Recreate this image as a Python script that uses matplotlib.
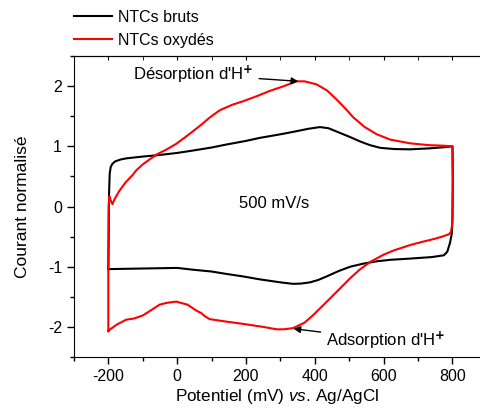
import matplotlib
matplotlib.use('Agg')
import matplotlib.pyplot as plt
from matplotlib.ticker import MultipleLocator

plt.rcParams['font.family'] = ['Liberation Sans', 'DejaVu Sans']
plt.rcParams['mathtext.fontset'] = 'custom'
plt.rcParams['mathtext.rm'] = 'Liberation Sans'
plt.rcParams['mathtext.it'] = 'Liberation Sans:italic'
plt.rcParams['mathtext.bf'] = 'DejaVu Sans:bold'
plt.rcParams['axes.unicode_minus'] = False

# NTCs bruts (loop: anodic branch then cathodic branch)
brutsX = [-200, -199, -198, -196, -193, -188, -180, -165, -148, -100, -61, 0, 46, 100, 143, 200,
          240, 300, 337, 380, 415, 440, 470, 500, 532, 560, 590, 630, 677, 730, 775, 800,
          801, 800, 798, 793, 785, 775, 740, 677, 620, 580, 540, 503, 470, 435, 410, 386,
          360, 337, 300, 240, 190, 143, 100, 46, 0, -50, -100, -150, -200]
brutsY = [-1.04, -0.5, 0.2, 0.55, 0.66, 0.71, 0.75, 0.78, 0.80, 0.83, 0.85, 0.89, 0.93, 0.98, 1.03, 1.09,
          1.14, 1.20, 1.24, 1.29, 1.32, 1.30, 1.23, 1.16, 1.08, 1.02, 0.975, 0.955, 0.95, 0.965, 0.985, 1.0,
          0.5, -0.2, -0.45, -0.6, -0.75, -0.81, -0.84, -0.865, -0.885, -0.91, -0.95, -1.0, -1.07, -1.16, -1.22, -1.26,
          -1.28, -1.285, -1.26, -1.21, -1.16, -1.12, -1.08, -1.05, -1.02, -1.025, -1.03, -1.035, -1.04]

# NTCs oxydés
oxX = [-200, -200, -199, -197, -193, -188, -182, -168, -150, -130, -119, -100, -61, -30, -3, 30,
       66, 95, 124, 160, 192, 230, 269, 310, 347, 370, 405, 435, 463, 490, 512, 545,
       580, 620, 677, 730, 775, 800, 801, 800, 799, 796, 790, 770, 746, 710, 677, 629,
       600, 561, 530, 503, 470, 435, 396, 370, 337, 310, 289, 250, 192, 140, 94, 80,
       70, 56, 30, -3, -30, -51, -75, -100, -125, -148, -175, -197, -200]
oxY = [-2.07, -1.0, 0.0, 0.17, 0.10, 0.04, 0.12, 0.26, 0.40, 0.52, 0.60, 0.70, 0.86, 0.95, 1.04, 1.18,
       1.34, 1.48, 1.60, 1.69, 1.75, 1.83, 1.92, 2.00, 2.08, 2.08, 2.03, 1.93, 1.78, 1.62, 1.48, 1.32,
       1.20, 1.11, 1.05, 1.02, 1.01, 1.0, 0.3, -0.1, -0.3, -0.42, -0.46, -0.50, -0.54, -0.59, -0.64, -0.73,
       -0.80, -0.92, -1.05, -1.19, -1.38, -1.58, -1.80, -1.93, -2.02, -2.04, -2.04, -2.00, -1.95, -1.91, -1.87, -1.82,
       -1.77, -1.73, -1.63, -1.58, -1.60, -1.63, -1.72, -1.81, -1.86, -1.88, -1.96, -2.05, -2.07]

fig = plt.figure(figsize=(4.8, 4.12), dpi=100)
ax = fig.add_axes([0.154, 0.1335, 0.846, 0.7305])

l1, = ax.plot(brutsX, brutsY, color='black', lw=1.5, label='NTCs bruts')
l2, = ax.plot(oxX, oxY, color='red', lw=1.5, label='NTCs oxydés')

ax.set_xlim(-300, 880)
ax.set_ylim(-2.5, 2.5)
ax.xaxis.set_major_locator(MultipleLocator(200))
ax.xaxis.set_minor_locator(MultipleLocator(100))
ax.yaxis.set_major_locator(MultipleLocator(1))
ax.yaxis.set_minor_locator(MultipleLocator(0.5))
ax.spines['right'].set_visible(False)
ax.tick_params(axis='both', which='major', direction='out', length=5, width=1, labelsize=11.5)
ax.tick_params(axis='both', which='minor', direction='out', length=3, width=1)

# top ticks point inward
sec = ax.secondary_xaxis('top')
sec.xaxis.set_major_locator(MultipleLocator(200))
sec.xaxis.set_minor_locator(MultipleLocator(100))
sec.tick_params(which='both', direction='in', length=3, labeltop=False)

ax.set_xlabel(r"$\mathrm{Potentiel\ (mV)\ }\mathit{vs.}\mathrm{\,Ag/AgCl}$", fontsize=12.3, labelpad=2)
ax.set_ylabel("Courant normalisé", fontsize=12.5, labelpad=13)

ax.text(281, 0.05, "500 mV/s", fontsize=12, ha='center', va='center')
ax.annotate(r"Désorption d'H$^{\mathbf{+}}$", xy=(352, 2.08), xytext=(222, 2.2),
            fontsize=12, ha='right', va='center',
            arrowprops=dict(arrowstyle='-|>', color='black', lw=1, shrinkA=2, shrinkB=0,
                            mutation_scale=10))
ax.annotate(r"Adsorption d'H$^{\mathbf{+}}$", xy=(338, -2.03), xytext=(433, -2.22),
            fontsize=12, ha='left', va='center',
            arrowprops=dict(arrowstyle='-|>', color='black', lw=1, shrinkA=2, shrinkB=0,
                            mutation_scale=10))

fig.legend(handles=[l1, l2], loc='upper left', bbox_to_anchor=(0.127, 1.007), frameon=False,
           fontsize=11.5, handlelength=2.4, handletextpad=0.4, labelspacing=0.5, borderpad=0.3)

fig.savefig('out.png', dpi=100)
